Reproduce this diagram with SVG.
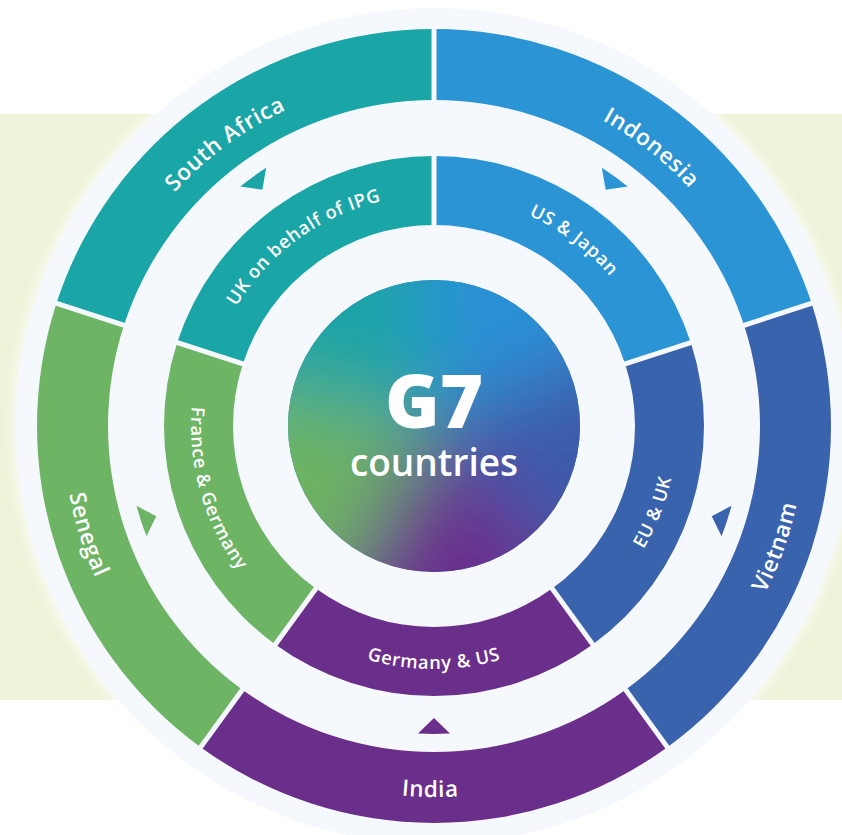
<svg xmlns="http://www.w3.org/2000/svg" xmlns:xlink="http://www.w3.org/1999/xlink" width="842" height="835" viewBox="0 0 842 835">
<style>
.lbl{font-family:"Open Sans","Noto Sans","Liberation Sans",sans-serif;fill:#ffffff;font-weight:600}
.out{font-size:22.5px;letter-spacing:0.6px}
.inn{font-size:18.3px;letter-spacing:0.7px}
.teal{fill:#1aa5a6}
.blue{fill:#2b94d5}
.dblue{fill:#3a63ad}
.purple{fill:#6a2f8b}
.green{fill:#6db565}
.gap{stroke:#f5f9fe;stroke-width:5;fill:none}
.ctr{font-family:"Open Sans","Noto Sans","Liberation Sans",sans-serif;fill:#ffffff;text-anchor:middle}
</style>
<defs>
<filter id="soft" x="-50%" y="-50%" width="200%" height="200%"><feGaussianBlur stdDeviation="40"/></filter>
<filter id="glow" x="-10%" y="-10%" width="120%" height="120%"><feGaussianBlur stdDeviation="7"/></filter>
<clipPath id="disc"><circle cx="434" cy="426" r="146"/></clipPath>
<path id="tri" d="M 418.01 118.42 A 308 308 0 0 1 449.99 118.42 L 434 134 Z"/>
<path id="cwOut" d="M 131.76 251.5 A 349 349 0 0 1 736.24 251.5"/>
<path id="ccwOut" d="M 112.70 611.5 A 371 371 0 0 0 755.30 611.5"/>
<path id="cwIn" d="M 233.95 310.5 A 231 231 0 0 1 634.05 310.5"/>
<path id="ccwIn" d="M 223.56 547.5 A 243 243 0 0 0 644.44 547.5"/>
</defs>

<rect x="0" y="0" width="842" height="835" fill="#ffffff"/>
<rect x="0" y="114" width="842" height="586" fill="#edf3d8"/>
<circle cx="434" cy="426" r="420" fill="#fdfefd" filter="url(#glow)"/>
<circle cx="434" cy="426" r="418" fill="#f5f9fe"/>

<g id="outer-ring">
<g id="south-africa">
<path class="teal" d="M 56.43 303.32 A 397 397 0 0 1 434 29 L 434 100 A 326 326 0 0 0 123.96 325.26 Z"/>
<text class="lbl out" transform="rotate(-36.5 434 426)"><textPath xlink:href="#cwOut" href="#cwOut" startOffset="50%" text-anchor="middle">South Africa</textPath></text>
</g>
<g id="indonesia">
<path class="blue" d="M 434 29 A 397 397 0 0 1 811.57 303.32 L 744.04 325.26 A 326 326 0 0 0 434 100 Z"/>
<text class="lbl out" transform="rotate(38 434 426)"><textPath xlink:href="#cwOut" href="#cwOut" startOffset="50%" text-anchor="middle">Indonesia</textPath></text>
</g>
<g id="vietnam">
<path class="dblue" d="M 811.57 303.32 A 397 397 0 0 1 667.35 747.18 L 625.62 689.74 A 326 326 0 0 0 744.04 325.26 Z"/>
<text class="lbl out" transform="rotate(-70.5 434 426)"><textPath xlink:href="#ccwOut" href="#ccwOut" startOffset="50%" text-anchor="middle">Vietnam</textPath></text>
</g>
<g id="india">
<path class="purple" d="M 667.35 747.18 A 397 397 0 0 1 200.65 747.18 L 242.38 689.74 A 326 326 0 0 0 625.62 689.74 Z"/>
<text class="lbl out" transform="rotate(0.6 434 426)"><textPath xlink:href="#ccwOut" href="#ccwOut" startOffset="50%" text-anchor="middle">India</textPath></text>
</g>
<g id="senegal">
<path class="green" d="M 200.65 747.18 A 397 397 0 0 1 56.43 303.32 L 123.96 325.26 A 326 326 0 0 0 242.38 689.74 Z"/>
<text class="lbl out" transform="rotate(72.6 434 426)"><textPath xlink:href="#ccwOut" href="#ccwOut" startOffset="50%" text-anchor="middle">Senegal</textPath></text>
</g>
</g>

<g id="inner-ring">
<g id="uk-ipg">
<path class="teal" d="M 177.21 342.57 A 270 270 0 0 1 434 156 L 434 225 A 201 201 0 0 0 242.84 363.89 Z"/>
<text class="lbl inn" transform="rotate(-36 434 426)"><textPath xlink:href="#cwIn" href="#cwIn" startOffset="50%" text-anchor="middle">UK on behalf of IPG</textPath></text>
</g>
<g id="us-japan">
<path class="blue" d="M 434 156 A 270 270 0 0 1 690.79 342.57 L 625.16 363.89 A 201 201 0 0 0 434 225 Z"/>
<text class="lbl inn" transform="rotate(37 434 426)"><textPath xlink:href="#cwIn" href="#cwIn" startOffset="50%" text-anchor="middle">US &amp; Japan</textPath></text>
</g>
<g id="eu-uk">
<path class="dblue" d="M 690.79 342.57 A 270 270 0 0 1 592.70 644.43 L 552.14 588.61 A 201 201 0 0 0 625.16 363.89 Z"/>
<text class="lbl inn" transform="rotate(-68.6 434 426)"><textPath xlink:href="#ccwIn" href="#ccwIn" startOffset="50%" text-anchor="middle">EU &amp; UK</textPath></text>
</g>
<g id="germany-us">
<path class="purple" d="M 592.70 644.43 A 270 270 0 0 1 275.30 644.43 L 315.86 588.61 A 201 201 0 0 0 552.14 588.61 Z"/>
<text class="lbl inn" transform="rotate(0 434 426)"><textPath xlink:href="#ccwIn" href="#ccwIn" startOffset="50%" text-anchor="middle">Germany &amp; US</textPath></text>
</g>
<g id="france-germany">
<path class="green" d="M 275.30 644.43 A 270 270 0 0 1 177.21 342.57 L 242.84 363.89 A 201 201 0 0 0 315.86 588.61 Z"/>
<text class="lbl inn" transform="rotate(74 434 426)"><textPath xlink:href="#ccwIn" href="#ccwIn" startOffset="50%" text-anchor="middle">France &amp; Germany</textPath></text>
</g>
</g>

<g id="gaps">
<line class="gap" x1="434" y1="426" x2="434" y2="26"/>
<line class="gap" x1="434" y1="426" x2="814.42" y2="302.39"/>
<line class="gap" x1="434" y1="426" x2="669.11" y2="749.61"/>
<line class="gap" x1="434" y1="426" x2="198.89" y2="749.61"/>
<line class="gap" x1="434" y1="426" x2="53.58" y2="302.39"/>
</g>

<g id="connectors">
<use href="#tri" xlink:href="#tri" class="blue" transform="rotate(36 434 426)"/>
<use href="#tri" xlink:href="#tri" class="dblue" transform="rotate(108 434 426)"/>
<use href="#tri" xlink:href="#tri" class="purple" transform="rotate(180 434 426)"/>
<use href="#tri" xlink:href="#tri" class="green" transform="rotate(252 434 426)"/>
<use href="#tri" xlink:href="#tri" class="teal" transform="rotate(324 434 426)"/>
</g>

<g id="center">
<circle cx="434" cy="426" r="146" fill="#3a78b4"/>
<g clip-path="url(#disc)">
<g filter="url(#soft)">
<g transform="rotate(-6 434 426)">
<path d="M 434 426 L 148.68 333.29 A 300 300 0 0 1 434 126 Z" fill="#1ea4a6"/>
<path d="M 434 426 L 434 126 A 300 300 0 0 1 719.32 333.29 Z" fill="#2a90d6"/>
<path d="M 434 426 L 719.32 333.29 A 300 300 0 0 1 610.34 668.71 Z" fill="#3c5aaa"/>
<path d="M 434 426 L 610.34 668.71 A 300 300 0 0 1 257.66 668.71 Z" fill="#6b2f8e"/>
<path d="M 434 426 L 257.66 668.71 A 300 300 0 0 1 148.68 333.29 Z" fill="#6db462"/>
</g>
</g>
</g>
<text class="ctr"><tspan x="434" y="428" font-size="74" font-weight="800">G7</tspan><tspan x="434" y="476" font-size="37" font-weight="600">countries</tspan></text>
</g>
</svg>
